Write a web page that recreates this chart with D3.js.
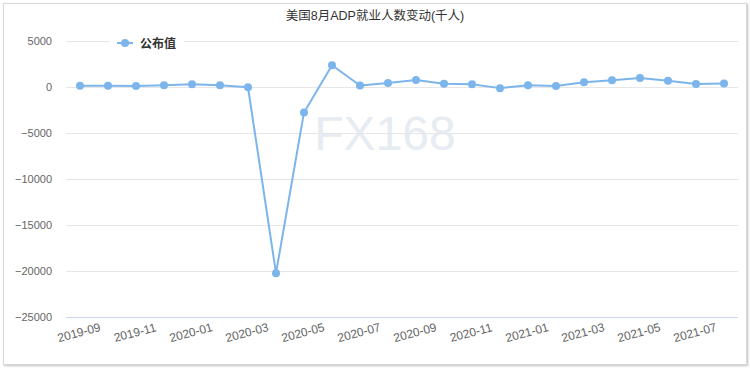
<!DOCTYPE html>
<html>
<head>
<meta charset="utf-8">
<script src="https://cdn.jsdelivr.net/npm/d3@7"></script>
<style>
  body { margin: 0; background: #fff; }
  svg { display: block; font-family: "Liberation Sans", "Noto Sans CJK SC", sans-serif; }
</style>
</head>
<body>
<svg id="chart" width="750" height="370"></svg>
<script>
// months shown on the x axis
var months = ["2019-09", "2019-10", "2019-11", "2019-12", "2020-01", "2020-02", "2020-03", "2020-04",
              "2020-05", "2020-06", "2020-07", "2020-08", "2020-09", "2020-10", "2020-11", "2020-12",
              "2021-01", "2021-02", "2021-03", "2021-04", "2021-05", "2021-06", "2021-07", "2021-08"];
// ADP change, thousands
var values = [135, 125, 121, 202, 291, 183, -27, -20236,
              -2760, 2369, 167, 428, 749, 365, 307, -123,
              195, 117, 517, 742, 978, 680, 330, 374];
var yTicks = [5000, 0, -5000, -10000, -15000, -20000, -25000];
var seriesName = "公布值";
var titleText = "美国8月ADP就业人数变动(千人)";

var svg = d3.select("#chart");
var margin = { top: 41, right: 12, bottom: 53, left: 66 },
    width = 750 - margin.left - margin.right,
    height = 370 - margin.top - margin.bottom;

// frame with a light shadow
var defs = svg.append("defs");
var f = defs.append("filter").attr("id", "sh").attr("x", "-5%").attr("y", "-5%").attr("width", "110%").attr("height", "110%");
f.append("feDropShadow").attr("dx", 1).attr("dy", 1).attr("stdDeviation", 1.2).attr("flood-color", "#000").attr("flood-opacity", 0.25);
svg.append("rect")
    .attr("x", 3.5).attr("y", 3.5).attr("width", 743).attr("height", 361)
    .attr("fill", "#fff").attr("stroke", "#d8d8d8").attr("filter", "url(#sh)");

var x = d3.scaleBand().domain(months).range([0, width]);
var y = d3.scaleLinear().domain([-25000, 5000]).range([height, 0]);

var root = svg.append("g")
    .attr("transform", "translate(" + margin.left + "," + margin.top + ")");

// watermark
root.append("text")
    .attr("x", x("2020-08") + x.bandwidth() / 2 - 3)
    .attr("y", y(-6900))
    .attr("text-anchor", "middle")
    .attr("font-size", 48)
    .attr("fill", "#e6ecf1")
    .text("FX168");

// grid lines
root.append("g")
    .selectAll("line")
    .data(yTicks.filter(function (d) { return d !== -25000; }))
    .join("line")
    .attr("x1", 0).attr("x2", width)
    .attr("y1", function (d) { return Math.round(y(d)) + 0.5; })
    .attr("y2", function (d) { return Math.round(y(d)) + 0.5; })
    .attr("stroke", "#e6e6e6");

// y axis labels
var yAxis = d3.axisLeft(y).tickValues(yTicks).tickFormat(d3.format("d")).tickSize(0).tickPadding(14);
root.append("g")
    .attr("class", "yAxis")
    .call(yAxis)
    .call(function (g) { g.select(".domain").remove(); })
    .selectAll("text")
    .attr("fill", "#666").attr("font-size", 11);

// x axis
var xAxis = d3.axisBottom(x)
    .tickValues(months.filter(function (d, i) { return i % 2 === 0; }))
    .tickSize(0).tickPadding(0);
var xg = root.append("g")
    .attr("class", "xAxis")
    .attr("transform", "translate(0," + (Math.round(height) + 0.5) + ")")
    .call(xAxis);
xg.select(".domain").attr("stroke", "#ccd6eb").attr("d", "M0,0H" + width);
xg.selectAll(".tick text")
    .attr("fill", "#666").attr("font-size", 12)
    .attr("text-anchor", "middle")
    .attr("dy", null).attr("y", 0)
    .attr("transform", "translate(0,19) rotate(-15)");

// series line
var line = d3.line()
    .x(function (d, i) { return x(months[i]) + x.bandwidth() / 2; })
    .y(function (d) { return y(d); });
root.append("path")
    .datum(values)
    .attr("fill", "none")
    .attr("stroke", "#7cb5ec")
    .attr("stroke-width", 2)
    .attr("stroke-linejoin", "round")
    .attr("d", line);
root.append("g")
    .selectAll("circle")
    .data(values)
    .join("circle")
    .attr("cx", function (d, i) { return x(months[i]) + x.bandwidth() / 2; })
    .attr("cy", function (d) { return y(d); })
    .attr("r", 4)
    .attr("fill", "#7cb5ec");

// title
svg.append("text")
    .attr("x", 375).attr("y", 20)
    .attr("text-anchor", "middle")
    .attr("font-size", 12.5)
    .attr("fill", "#333")
    .text(titleText);

// legend
var lg = svg.append("g").attr("transform", "translate(110,43)");
lg.append("rect").attr("x", 0).attr("y", -8).attr("width", 74).attr("height", 16).attr("fill", "#fff");
lg.append("line").attr("x1", 7).attr("x2", 23).attr("y1", 0).attr("y2", 0)
    .attr("stroke", "#7cb5ec").attr("stroke-width", 2);
lg.append("circle").attr("cx", 15).attr("cy", 0).attr("r", 4).attr("fill", "#7cb5ec");
lg.append("text").attr("x", 30).attr("y", 4.5)
    .attr("font-size", 12).attr("font-weight", "bold").attr("fill", "#333")
    .text(seriesName);
</script>
</body>
</html>
